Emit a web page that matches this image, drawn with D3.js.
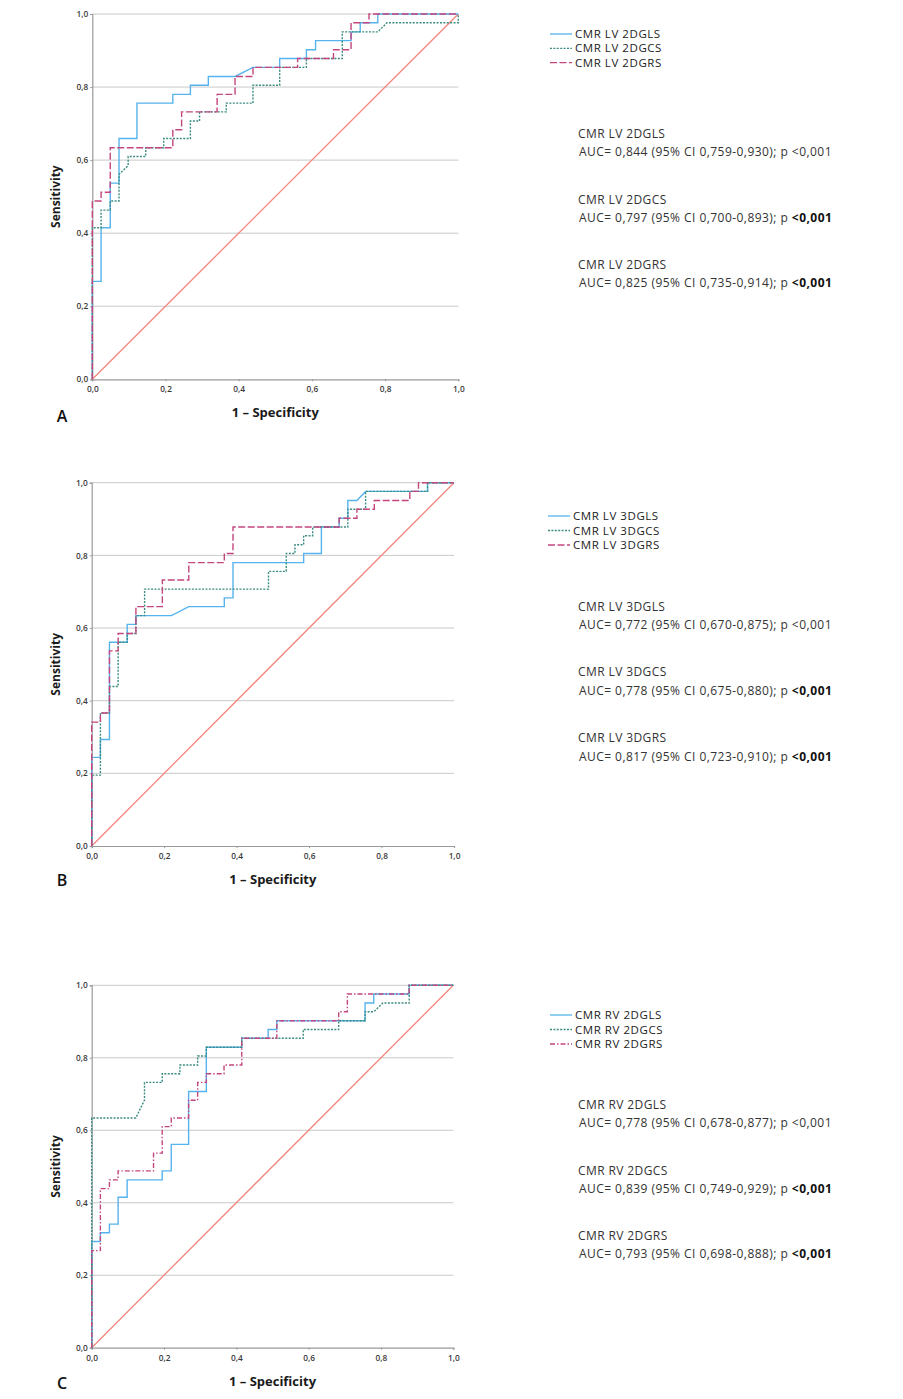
<!DOCTYPE html>
<html><head><meta charset="utf-8">
<script src="https://cdn.jsdelivr.net/npm/d3@7"></script>
<style>body{margin:0;background:#fff}svg{display:block}</style>
</head><body>
<svg id="c" width="903" height="1399"></svg>
<script>
// ---- data ----
const tickValues = [0, 0.2, 0.4, 0.6, 0.8, 1.0];
const tickLabels = ["0,0", "0,2", "0,4", "0,6", "0,8", "1,0"];
const panelLetters = ["A", "B", "C"];
const namesA = ["CMR LV 2DGLS", "CMR LV 2DGCS", "CMR LV 2DGRS"];
const namesB = ["CMR LV 3DGLS", "CMR LV 3DGCS", "CMR LV 3DGRS"];
const namesC = ["CMR RV 2DGLS", "CMR RV 2DGCS", "CMR RV 2DGRS"];
const aucA = ["0,844", "0,797", "0,825"];
const ciA = ["0,759-0,930", "0,700-0,893", "0,735-0,914"];
const aucB = ["0,772", "0,778", "0,817"];
const ciB = ["0,670-0,875", "0,675-0,880", "0,723-0,910"];
const aucC = ["0,778", "0,839", "0,793"];
const ciC = ["0,678-0,877", "0,749-0,929", "0,698-0,888"];
const pValues = ["<0,001", "<0,001", "<0,001"];

// ROC points [1 - specificity, sensitivity]
const A_GLS = [[0,0],[0,0.268],[0.024,0.268],[0.024,0.415],[0.049,0.415],[0.049,0.537],[0.073,0.537],[0.073,0.659],[0.122,0.659],[0.122,0.756],[0.220,0.756],[0.220,0.780],[0.268,0.780],[0.268,0.805],[0.317,0.805],[0.317,0.829],[0.390,0.829],[0.439,0.854],[0.512,0.854],[0.512,0.878],[0.585,0.878],[0.585,0.902],[0.610,0.902],[0.610,0.927],[0.707,0.927],[0.707,0.951],[0.732,0.951],[0.732,0.976],[0.780,0.976],[0.780,1],[1,1]];
const A_GCS = [[0,0],[0,0.415],[0.024,0.415],[0.024,0.463],[0.049,0.463],[0.049,0.488],[0.073,0.488],[0.073,0.561],[0.098,0.585],[0.098,0.610],[0.146,0.610],[0.146,0.634],[0.195,0.634],[0.195,0.659],[0.268,0.659],[0.268,0.707],[0.293,0.707],[0.293,0.732],[0.366,0.732],[0.366,0.756],[0.439,0.756],[0.439,0.805],[0.512,0.805],[0.512,0.854],[0.585,0.854],[0.585,0.878],[0.683,0.878],[0.683,0.951],[0.780,0.951],[0.805,0.976],[1,0.976],[1,1]];
const A_GRS = [[0,0],[0,0.488],[0.024,0.488],[0.024,0.512],[0.049,0.512],[0.049,0.634],[0.220,0.634],[0.220,0.683],[0.244,0.683],[0.244,0.732],[0.341,0.732],[0.341,0.780],[0.390,0.780],[0.390,0.829],[0.439,0.829],[0.439,0.854],[0.561,0.854],[0.561,0.878],[0.659,0.878],[0.659,0.902],[0.707,0.902],[0.707,0.976],[0.756,0.976],[0.756,1],[1,1]];

const B_GLS = [[0,0],[0,0.244],[0.024,0.244],[0.024,0.293],[0.049,0.293],[0.049,0.561],[0.098,0.561],[0.098,0.610],[0.122,0.610],[0.122,0.634],[0.220,0.634],[0.268,0.659],[0.366,0.659],[0.366,0.683],[0.390,0.683],[0.390,0.780],[0.585,0.780],[0.585,0.805],[0.634,0.805],[0.634,0.878],[0.683,0.878],[0.683,0.902],[0.707,0.902],[0.707,0.951],[0.732,0.951],[0.756,0.976],[0.927,0.976],[0.927,1],[1,1]];
const B_GCS = [[0,0],[0,0.195],[0.024,0.195],[0.024,0.366],[0.049,0.366],[0.049,0.439],[0.073,0.439],[0.073,0.561],[0.098,0.561],[0.098,0.585],[0.122,0.585],[0.122,0.634],[0.146,0.634],[0.146,0.707],[0.488,0.707],[0.488,0.756],[0.537,0.756],[0.537,0.805],[0.561,0.805],[0.561,0.829],[0.585,0.829],[0.585,0.854],[0.610,0.854],[0.610,0.878],[0.707,0.878],[0.707,0.927],[0.756,0.927],[0.756,0.976],[0.927,0.976],[0.927,1],[1,1]];
const B_GRS = [[0,0],[0,0.341],[0.024,0.341],[0.024,0.366],[0.049,0.366],[0.049,0.537],[0.073,0.537],[0.073,0.585],[0.122,0.585],[0.122,0.659],[0.195,0.659],[0.195,0.732],[0.268,0.732],[0.268,0.780],[0.366,0.780],[0.366,0.805],[0.390,0.805],[0.390,0.878],[0.683,0.878],[0.683,0.902],[0.732,0.902],[0.732,0.927],[0.780,0.927],[0.780,0.951],[0.878,0.951],[0.878,0.976],[0.902,0.976],[0.902,1],[1,1]];

const C_GLS = [[0,0],[0,0.293],[0.024,0.293],[0.024,0.317],[0.049,0.317],[0.049,0.341],[0.073,0.341],[0.073,0.415],[0.098,0.415],[0.098,0.463],[0.195,0.463],[0.195,0.488],[0.220,0.488],[0.220,0.561],[0.268,0.561],[0.268,0.707],[0.317,0.707],[0.317,0.829],[0.415,0.829],[0.415,0.854],[0.488,0.854],[0.488,0.878],[0.512,0.878],[0.512,0.902],[0.756,0.902],[0.756,0.951],[0.780,0.951],[0.780,0.976],[0.878,0.976],[0.878,1],[1,1]];
const C_GCS = [[0,0],[0,0.634],[0.122,0.634],[0.146,0.683],[0.146,0.732],[0.195,0.732],[0.195,0.756],[0.244,0.756],[0.244,0.780],[0.293,0.780],[0.293,0.805],[0.317,0.805],[0.317,0.829],[0.415,0.829],[0.415,0.854],[0.585,0.854],[0.585,0.878],[0.683,0.878],[0.683,0.902],[0.756,0.902],[0.756,0.927],[0.780,0.927],[0.805,0.951],[0.878,0.951],[0.878,1],[1,1]];
const C_GRS = [[0,0],[0,0.268],[0.024,0.268],[0.024,0.439],[0.049,0.439],[0.049,0.463],[0.073,0.463],[0.073,0.488],[0.171,0.488],[0.171,0.537],[0.195,0.537],[0.195,0.610],[0.220,0.610],[0.220,0.634],[0.268,0.634],[0.268,0.683],[0.293,0.683],[0.293,0.732],[0.317,0.732],[0.317,0.756],[0.366,0.756],[0.366,0.780],[0.415,0.780],[0.415,0.854],[0.512,0.854],[0.512,0.902],[0.683,0.902],[0.683,0.927],[0.707,0.927],[0.707,0.976],[0.878,0.976],[0.878,1],[1,1]];
const refLine = [[0,0],[1,1]];

// ---- layout / style ----
const colors = ["#56b3ee", "#3a8c80", "#c4467f"];
const panels = [
  {letter: panelLetters[0], series: [A_GLS, A_GCS, A_GRS], names: namesA, auc: aucA, ci: ciA,
   box: {l: 92.3, r: 458.3, t: 14, b: 379.3}, legY: [34, 48.3, 62.7], legX: 550, statY: [133.5, 151.5, 199.5, 217.5, 265, 282.5], redDash: "7,2.5", letterDy: 43},
  {letter: panelLetters[1], series: [B_GLS, B_GCS, B_GRS], names: namesB, auc: aucB, ci: ciB,
   box: {l: 91.7, r: 454, t: 482.7, b: 846}, legY: [516, 530.5, 545], legX: 548, statY: [606.5, 625, 672, 690.5, 738, 756.5], redDash: "7,2.5", letterDy: 40},
  {letter: panelLetters[2], series: [C_GLS, C_GCS, C_GRS], names: namesC, auc: aucC, ci: ciC,
   box: {l: 91.7, r: 453.3, t: 985.3, b: 1347.7}, legY: [1015, 1029.5, 1044], legX: 550, statY: [1104.5, 1122.5, 1170.5, 1188.5, 1236, 1254], redDash: "5,2,1.5,2", letterDy: 41}
];
const dashes = [null, "2,1.4", null];
const font = "'Open Sans', 'Liberation Sans', sans-serif";

const svg = d3.select("#c");

panels.forEach(p => {
  const x = d3.scaleLinear().domain([0, 1]).range([p.box.l, p.box.r]);
  const y = d3.scaleLinear().domain([0, 1]).range([p.box.b, p.box.t]);
  const g = svg.append("g");

  // gridlines
  g.selectAll("line.grid").data(tickValues.slice(1)).join("line")
    .attr("x1", x(0)).attr("x2", x(1)).attr("y1", d => y(d)).attr("y2", d => y(d))
    .attr("stroke", "#c9c9c9").attr("stroke-width", 1);

  // axes
  const xAxis = d3.axisBottom(x).tickValues(tickValues).tickFormat((d, i) => tickLabels[i]).tickSize(2).tickPadding(5);
  const yAxis = d3.axisLeft(y).tickValues(tickValues).tickFormat((d, i) => tickLabels[i]).tickSize(2).tickPadding(2);
  const gx = g.append("g").attr("transform", `translate(0,${p.box.b})`).call(xAxis);
  const gy = g.append("g").attr("transform", `translate(${p.box.l},0)`).call(yAxis);
  [gx, gy].forEach(a => {
    a.select(".domain").attr("stroke", "#9a9a9a").attr("stroke-width", 1.2);
    a.selectAll(".tick line").attr("stroke", "#9a9a9a");
    a.selectAll("text").attr("font-family", font).attr("font-size", 8.3).attr("font-weight", 600).attr("fill", "#3a3a3a");
  });

  // reference diagonal
  const line = d3.line().x(d => x(d[0])).y(d => y(d[1]));
  g.append("path").datum(refLine).attr("d", line).attr("fill", "none")
    .attr("stroke", "#f4857c").attr("stroke-width", 1.3);

  // ROC curves
  p.series.forEach((s, i) => {
    g.append("path").datum(s).attr("d", line).attr("fill", "none")
      .attr("stroke", colors[i]).attr("stroke-width", 1.4)
      .attr("stroke-dasharray", i === 2 ? p.redDash : dashes[i]);
  });

  // axis titles
  g.append("text").attr("x", (p.box.l + p.box.r) / 2).attr("y", p.box.b + 38)
    .attr("text-anchor", "middle").attr("font-family", font).attr("font-weight", 700)
    .attr("font-size", 13).attr("fill", "#1a1a1a").text("1 \u2013 Specificity");
  g.append("text").attr("transform", `translate(${59.5},${(p.box.t + p.box.b) / 2}) rotate(-90)`)
    .attr("text-anchor", "middle").attr("font-family", font).attr("font-weight", 700)
    .attr("font-size", 12).attr("fill", "#1a1a1a").text("Sensitivity");
  g.append("text").attr("x", 62).attr("y", p.box.b + p.letterDy).attr("text-anchor", "middle")
    .attr("font-family", font).attr("font-size", 16).attr("font-weight", 600).attr("fill", "#111").text(p.letter);

  // legend
  p.names.forEach((n, i) => {
    g.append("line").attr("x1", p.legX).attr("x2", p.legX + 22).attr("y1", p.legY[i]).attr("y2", p.legY[i])
      .attr("stroke", colors[i]).attr("stroke-width", 1.3)
      .attr("stroke-dasharray", i === 2 ? p.redDash : dashes[i]);
    g.append("text").attr("x", p.legX + 25).attr("y", p.legY[i] + 4.1)
      .attr("font-family", font).attr("font-size", 11.5).attr("font-weight", 500)
      .attr("letter-spacing", 0.55).attr("fill", "#222").text(n);
  });

  // statistics text
  p.names.forEach((n, i) => {
    g.append("text").attr("x", 578).attr("y", p.statY[2 * i] + 4.3)
      .attr("font-family", font).attr("font-size", 12).attr("letter-spacing", 0.4)
      .attr("fill", "#333").text(n);
    const t = g.append("text").attr("x", 579).attr("y", p.statY[2 * i + 1] + 4.3)
      .attr("font-family", font).attr("font-size", 12).attr("letter-spacing", 0.45).attr("fill", "#333");
    t.append("tspan").text(`AUC= ${p.auc[i]} (95% CI ${p.ci[i]}); p `);
    t.append("tspan").attr("font-weight", i === 0 ? 400 : 700).attr("fill", i === 0 ? "#333" : "#111").text(pValues[i]);
  });
});
</script>
</body></html>
